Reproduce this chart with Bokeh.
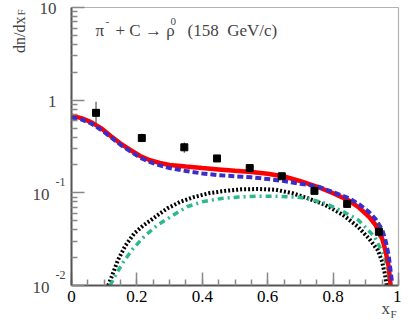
import numpy as np
from math import pi
from bokeh.plotting import figure
from bokeh.models import Range1d, FixedTicker, Label, ColumnDataSource, BoxAnnotation
from bokeh.embed import file_html
from bokeh.resources import INLINE

# ---------------- data ----------------
pt_x = [0.075, 0.215, 0.345, 0.445, 0.545, 0.643, 0.743, 0.843, 0.940]
pt_y = [0.73, 0.39, 0.31, 0.235, 0.185, 0.151, 0.105, 0.076, 0.038]
pt_err_lo = [0.17, 0.035, 0.04, 0.02, 0.012, 0.009, 0.006, 0.005, 0.005]
pt_err_hi = [0.23, 0.045, 0.04, 0.02, 0.012, 0.009, 0.006, 0.005, 0.010]

red_x = [0.00, 0.03, 0.06, 0.09, 0.12, 0.15, 0.18, 0.21, 0.24, 0.27, 0.30, 0.35, 0.40,
         0.45, 0.50, 0.55, 0.60, 0.65, 0.70, 0.75, 0.80, 0.85, 0.88, 0.91, 0.93, 0.95,
         0.96, 0.97, 0.976]
red_y = [0.68, 0.64, 0.58, 0.50, 0.41, 0.34, 0.29, 0.25, 0.225, 0.21, 0.20, 0.192, 0.185,
         0.179, 0.173, 0.168, 0.161, 0.150, 0.134, 0.117, 0.099, 0.082, 0.069, 0.055, 0.045,
         0.032, 0.024, 0.016, 0.010]

blue_x = [0.00, 0.03, 0.06, 0.09, 0.12, 0.15, 0.18, 0.21, 0.24, 0.27, 0.30, 0.35, 0.40,
          0.45, 0.50, 0.55, 0.60, 0.65, 0.70, 0.75, 0.80, 0.85, 0.88, 0.91, 0.93, 0.95,
          0.96, 0.97, 0.98]
blue_y = [0.65, 0.62, 0.56, 0.48, 0.40, 0.33, 0.28, 0.24, 0.215, 0.198, 0.185, 0.172, 0.162,
          0.155, 0.151, 0.147, 0.141, 0.134, 0.125, 0.118, 0.102, 0.087, 0.075, 0.062, 0.052,
          0.040, 0.031, 0.021, 0.011]

black_x = [0.112, 0.125, 0.142, 0.165, 0.192, 0.218, 0.243, 0.268, 0.293, 0.333, 0.374,
           0.42, 0.47, 0.52, 0.57, 0.625, 0.676, 0.72, 0.776, 0.83, 0.876, 0.91, 0.937,
           0.95, 0.958, 0.964]
black_y = [0.010, 0.013, 0.0188, 0.027, 0.0365, 0.044, 0.0508, 0.059, 0.068, 0.080, 0.090,
           0.099, 0.105, 0.109, 0.110, 0.108, 0.099, 0.088, 0.074, 0.058, 0.043, 0.032, 0.024,
           0.018, 0.0135, 0.010]

green_x = [0.118, 0.132, 0.157, 0.187, 0.223, 0.263, 0.308, 0.353, 0.40, 0.459, 0.51,
           0.565, 0.62, 0.656, 0.70, 0.725, 0.776, 0.83, 0.877, 0.927, 0.958, 0.97, 0.975]
green_y = [0.010, 0.0124, 0.0176, 0.0247, 0.034, 0.0449, 0.0565, 0.0708, 0.080, 0.087, 0.090,
           0.092, 0.092, 0.091, 0.089, 0.086, 0.077, 0.063, 0.051, 0.0335, 0.0203, 0.0124, 0.010]

x_ticks = [0, 0.2, 0.4, 0.6, 0.8, 1]
x_tick_labels = ["0", "0.2", "0.4", "0.6", "0.8", "1"]
y_ticks = [0.01, 0.1, 1, 10]
y_tick_base = ["10", "10", "1", "10"]
y_tick_exp = ["-2", "-1", "", ""]

FONT = "Liberation Serif"

# ---------------- layout (pixels) ----------------
W, H = 401, 319
FL, FR, FT, FB = 71, 398, 7, 285          # inner plot box in canvas pixels
X0, X1 = 0.0, 1.0
LY0, LY1 = -2.0, 1.0                      # log10 of y limits
ppx = (FR - FL) / (X1 - X0)
ppd = (FB - FT) / (LY1 - LY0)
xr = Range1d(X0 - FL / ppx, X1 + (W - FR) / ppx)
yr = Range1d(10 ** (LY0 - (H - FB) / ppd), 10 ** (LY1 + FT / ppd))

p = figure(width=W, height=H, output_backend="svg", toolbar_location=None,
           x_range=xr, y_range=yr, y_axis_type="log",
           min_border_left=0, min_border_right=0, min_border_top=0, min_border_bottom=0)
p.grid.visible = False
p.outline_line_color = None
p.background_fill_color = "white"
p.border_fill_color = "white"

# x axis
minor_x = [round(v, 3) for v in np.arange(0, 1.0001, 0.05)]
p.xaxis.ticker = FixedTicker(ticks=x_ticks, minor_ticks=minor_x)
p.xaxis.major_label_overrides = {t: l for t, l in zip(x_ticks, x_tick_labels)}
p.xaxis.major_label_standoff = 5
p.xaxis.fixed_location = 10 ** LY0
p.xaxis.bounds = (X0, X1)
p.xaxis.major_label_text_font = FONT
p.xaxis.major_label_text_font_size = "17px"
p.xaxis.major_label_text_color = "black"

# y axis (labels drawn as 10^n below)
minor_y = [k * 10.0 ** d for d in (-2, -1, 0) for k in range(2, 10)]
p.yaxis.ticker = FixedTicker(ticks=y_ticks, minor_ticks=minor_y)
p.yaxis.fixed_location = X0
p.yaxis.bounds = (10 ** LY0, 10 ** LY1)
p.yaxis.major_label_text_color = None

for ax in (p.xaxis, p.yaxis):
    ax.axis_line_color = "#555555"
    ax.axis_line_width = 2
    ax.major_tick_in = 13
    ax.major_tick_out = 0
    ax.minor_tick_in = 6
    ax.minor_tick_out = 0
    ax.major_tick_line_color = "#888888"
    ax.minor_tick_line_color = "#888888"
    ax.major_tick_line_width = 1.5
    ax.minor_tick_line_width = 1.5

# frame box (top / right edges)
p.add_layout(BoxAnnotation(left=X0, right=X1, bottom=10 ** LY0, top=10 ** LY1,
                           fill_color=None, line_color="black", line_width=1.2,
                           level="underlay"))

# ---------------- curves ----------------
p.line(black_x, black_y, line_color="black", line_width=4, line_dash="2 2")
p.line(green_x, green_y, line_color="#2fb98a", line_width=3.5, line_dash="6 4 2 4")
p.line(red_x, red_y, line_color="#ff0000", line_width=4.5)
p.line(blue_x, blue_y, line_color="#3a2dc8", line_width=4, line_dash="6 3")

# ---------------- points ----------------
src = ColumnDataSource(dict(
    x=pt_x, y=pt_y,
    lo=[y - e for y, e in zip(pt_y, pt_err_lo)],
    hi=[y + e for y, e in zip(pt_y, pt_err_hi)],
))
p.segment(x0="x", y0="lo", x1="x", y1="hi", source=src, line_color="#555555", line_width=1.2)
p.scatter(x="x", y="y", source=src, marker="square", size=7, fill_color="black",
          line_color="black")

# ---------------- y tick labels (ROOT style 10^n) ----------------
for v, b, e in zip(y_ticks, y_tick_base, y_tick_exp):
    if e:
        p.add_layout(Label(x=X0, y=v, text=b, x_offset=-22, y_offset=-2, text_align="right",
                           text_baseline="middle", text_font=FONT, text_font_size="17px"))
        p.add_layout(Label(x=X0, y=v, text=e, x_offset=-16, y_offset=11, text_align="left",
                           text_baseline="middle", text_font=FONT, text_font_size="12px"))
    else:
        p.add_layout(Label(x=X0, y=v, text=b, x_offset=-15, y_offset=-1, text_align="right",
                           text_baseline="middle", text_font=FONT, text_font_size="17px"))

# ---------------- axis titles ----------------
p.add_layout(Label(x=X0, y=10 ** LY1, text="dn/dx", angle=pi / 2, x_offset=-52, y_offset=-9,
                   text_align="right", text_baseline="alphabetic", text_font=FONT,
                   text_font_size="16px"))
p.add_layout(Label(x=X0, y=10 ** LY1, text="F", angle=pi / 2, x_offset=-51, y_offset=-8,
                   text_align="left", text_baseline="alphabetic", text_font=FONT,
                   text_font_size="11px"))
p.add_layout(Label(x=X1, y=10 ** LY0, text="x", x_offset=-17, y_offset=-23, text_align="left",
                   text_baseline="alphabetic", text_font=FONT, text_font_size="17px"))
p.add_layout(Label(x=X1, y=10 ** LY0, text="F", x_offset=-8, y_offset=-28, text_align="left",
                   text_baseline="alphabetic", text_font=FONT, text_font_size="11px"))

# ---------------- reaction text inside the box ----------------
title_parts = [("π", 24, 30, "17px"), ("-", 34, 21, "11px"), ("+ C → ρ", 44, 30, "17px"),
               ("0", 99, 21, "11px"), ("(158\u00a0\u00a0GeV/c)", 116, 30, "17px")]
for txt, xo, base, fs in title_parts:
    p.add_layout(Label(x=X0, y=10 ** LY1, text=txt, x_offset=xo, y_offset=-(base - FT),
                       text_align="left", text_baseline="alphabetic", text_font=FONT,
                       text_font_size=fs))

open("out.html", "w").write(file_html(p, INLINE))
